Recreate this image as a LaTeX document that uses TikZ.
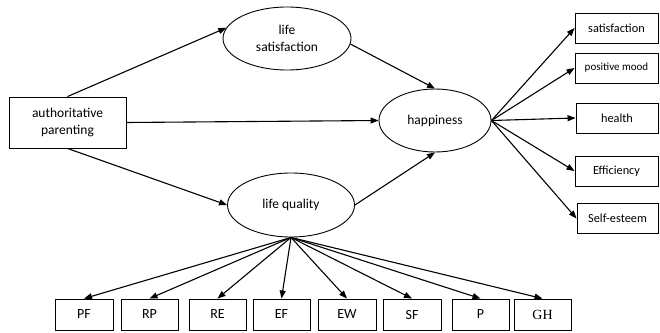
\documentclass[tikz,border=0pt]{standalone}
\usepackage{fontspec}
\setmainfont{Carlito}
\newfontfamily\serifgh{Liberation Serif}
\usetikzlibrary{arrows.meta,shapes.geometric}
\begin{document}
\begin{tikzpicture}[x=1pt,y=-1pt,
  conn/.style={line width=1.1pt,-{Triangle[length=8pt,width=6pt]}},
  boxnode/.style={draw,line width=0.9pt,rectangle,inner sep=0pt},
  ellnode/.style={draw,line width=0.9pt,ellipse,inner sep=0pt,font=\fontsize{13.5}{16.5}\selectfont,align=center},
  rbox/.style={boxnode,minimum width=83pt,minimum height=30pt,font=\fontsize{12.3}{14}\selectfont},
  bbox/.style={boxnode,minimum width=57pt,minimum height=31pt,font=\fontsize{14}{16}\selectfont}]
\useasboundingbox[fill=white] (0,0) rectangle (660,332);
% main nodes
\node[boxnode,minimum width=117pt,minimum height=51pt,align=center,font=\fontsize{13.5}{16.5}\selectfont] (ap) at (67.5,122.5) {authoritative\\parenting};
\node[ellnode,minimum width=128pt,minimum height=63pt] (ls) at (287,38.5) {life\\satisfaction};
\node[ellnode,minimum width=112pt,minimum height=63pt] (hap) at (435,120.5) {happiness};
\node[ellnode,minimum width=127pt,minimum height=64pt] (lq) at (291,205) {life quality};
% right boxes
\node[rbox] (sat) at (616.5,28) {satisfaction};
\node[rbox,font=\fontsize{11}{13}\selectfont] (pm) at (616.5,68) {positive mood};
\node[rbox,minimum width=82pt] (hea) at (617,118) {health};
\node[rbox] (eff) at (616.5,171) {Efficiency};
\node[rbox,minimum width=81pt] (se) at (617.5,218.5) {Self-esteem};
% bottom boxes
\node[bbox,minimum width=58pt] (pf) at (84,314.5) {PF};
\node[bbox] (rp) at (149.5,314.5) {RP};
\node[bbox] (re) at (217.5,314.5) {RE};
\node[bbox] (ef) at (281.5,314.5) {EF};
\node[bbox,minimum width=58pt] (ew) at (347,314.5) {EW};
\node[bbox,minimum width=58pt] (sf) at (412,314.5) {SF};
\node[bbox] (p) at (480.5,314.5) {P};
\node[bbox,font=\serifgh\fontsize{14}{16}\selectfont] (gh) at (542.5,314.5) {GH};
% connectors
\draw[conn] (ap.north) -- (ls.170);
\draw[conn] (ap.east) -- (hap.west);
\draw[conn] (ap.south) -- (lq.west);
\draw[conn] (ls.355) -- (hap.north);
\draw[conn] (lq.east) -- (hap.south);
\foreach \t in {sat,pm,hea,eff,se} \draw[conn] (hap.east) -- (\t.west);
\foreach \t in {pf,rp,re,ef,ew,sf,p,gh} \draw[conn] (lq.south) -- (\t.north);
\end{tikzpicture}
\end{document}
